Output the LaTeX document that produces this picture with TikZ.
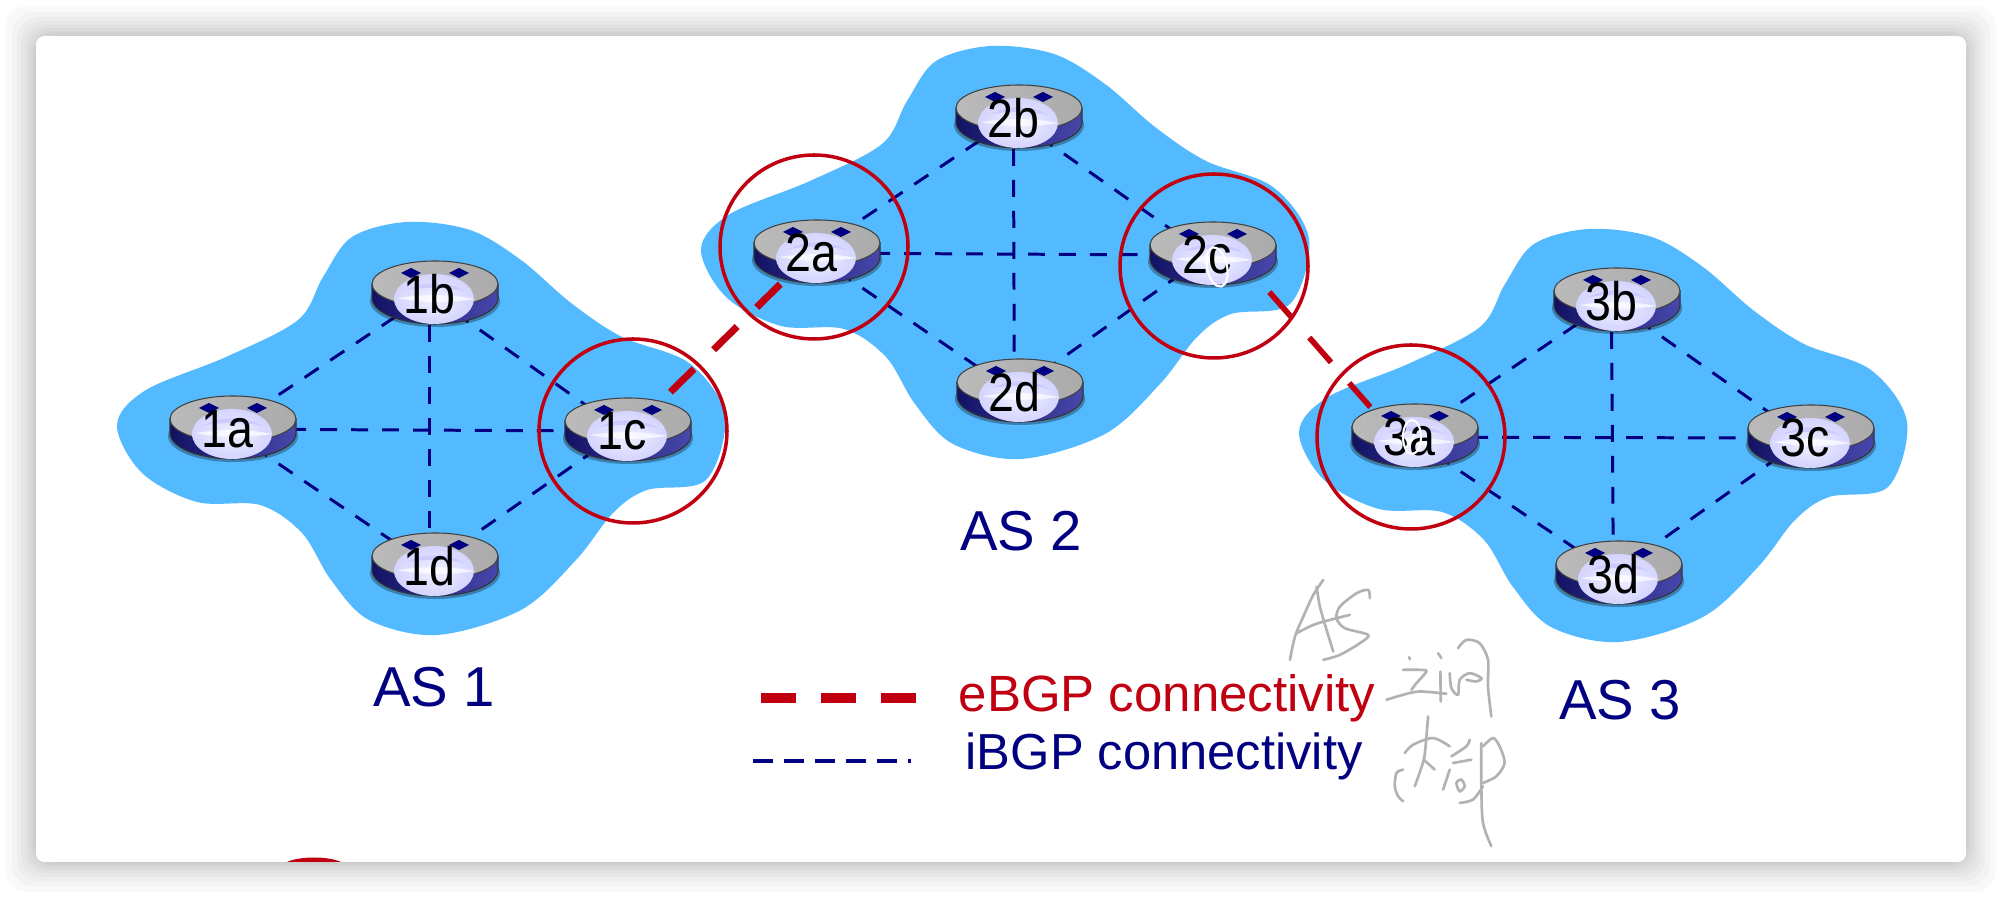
\documentclass[tikz,border=0pt]{standalone}
\usepackage{fontspec}
\setmainfont{Liberation Sans}
\usetikzlibrary{calc}
\definecolor{asblue}{RGB}{84,186,255}
\definecolor{linknavy}{RGB}{0,0,128}
\definecolor{linkred}{RGB}{192,0,16}
\definecolor{inkgray}{RGB}{178,178,178}
\definecolor{routerdark}{RGB}{18,18,100}
\definecolor{routerlight}{RGB}{72,72,172}
\pgfdeclarelayer{back}
\pgfsetlayers{back,main}
\tikzset{
  ibgp/.style={linknavy, line width=0.85pt, dash pattern=on 4.8pt off 4pt},
  ebgp/.style={linkred, line width=2pt, dash pattern=on 9.4pt off 7.8pt},
  ring/.style={linkred, line width=1pt},
  ink/.style={inkgray, line width=0.75pt, line cap=round},
  astext/.style={text=linknavy, font=\fontsize{16}{16}\selectfont},
  routertext/.style={inner sep=0pt, yshift=-0.6pt, xshift=-1.6pt, xscale=0.86, transform shape, font=\fontsize{15.4}{15.4}\selectfont},
  router/.pic={
    \fill[black, opacity=0.3] (0,9) ellipse [x radius=65, y radius=26];
    \shade[left color=routerdark, right color=routerlight, draw=black!80, line width=0.3pt]
      (-63,-8) -- (63,-8) -- (63,6) arc [start angle=0, end angle=180, x radius=63, y radius=26] -- cycle;
    \shade[left color=black!27, right color=black!33, draw=black!75, line width=0.3pt]
      (0,-8) ellipse [x radius=63, y radius=23];
    \shade[inner color=blue!6!white, outer color=blue!17!white]
      (-1,7) ellipse [x radius=40, y radius=25];
    \fill[blue!22!white, opacity=0.8] (-28,-2) .. controls (-10,-12) and (15,-10) .. (30,-1) .. controls (12,-5) and (-10,-5) .. (-28,-2);
    \fill[white, opacity=0.7] (-38,6) .. controls (-10,2) and (15,2) .. (39,7) .. controls (15,11) and (-15,11) .. (-38,6);
    \foreach \s in {-24,24}
      \fill[linknavy] (\s-10,-19) -- (\s,-24) -- (\s+10,-19) -- (\s,-14) -- cycle;
  }
}
\begin{document}
\begin{tikzpicture}[x=0.01cm,y=-0.01cm]
\useasboundingbox (0,0) rectangle (2002,898);

% window with its shadow
\begin{pgfonlayer}{back}
\fill[white] (0,0) rectangle (2002,898);
\foreach \s in {30,24,19,15,11,8,5,3,1}
  \fill[black, opacity=0.022, rounded corners=6pt] (36-\s,36-\s) rectangle (1966+\s,862+\s);
\fill[white, rounded corners=2.4pt] (36,36) rectangle (1966,862);
\fill[linkred] (287,862) .. controls (300,856) and (328,856) .. (341,862) -- cycle;

% the three clouds have the same outline
\foreach \dx/\dy in {0/0,584/-176,1182/7}
  \fill[asblue, shift={(\dx,\dy)}] plot [smooth cycle, tension=0.55] coordinates {
    (117,425) (146,390) (226,357) (298,320) (323,277) (352,237)
    (407,222) (470,230) (521,260) (571,303) (622,337) (689,363)
    (725,415) (706,480) (647,490) (613,513) (576,560)
    (521,610) (437,635) (369,620) (331,580) (302,533) (260,505)
    (197,502) (142,473)
  };
\end{pgfonlayer}

% routers
\foreach \name/\x/\y in {1a/233/427,1b/435/292,1c/628/429,1d/435/564,
                         2a/817/251,2b/1019/116,2c/1213/253,2d/1020/390,
                         3a/1415/435,3b/1617/299,3c/1811/436,3d/1619/572} {
  \pic at (\x,\y) {router};
  \node[routertext] (\name) at (\x,\y) {\name};
}

% links go under the routers
\begin{pgfonlayer}{back}
\foreach \as in {1,2,3} {
  \draw[ibgp] (\as a.center) -- (\as b.center);
  \draw[ibgp] (\as b.center) -- (\as c.center);
  \draw[ibgp] (\as a.center) -- (\as c.center);
  \draw[ibgp] (\as a.center) -- (\as d.center);
  \draw[ibgp] (\as c.center) -- (\as d.center);
  \draw[ibgp] (\as b.center) -- (\as d.center);
}
\draw[ebgp] ([shift={(48,-39)}]1c.center) -- ([shift={(-30,30)}]2a.center);
\draw[ebgp, line width=1.6pt] ([shift={(62,37)}]2c.center) -- ([shift={(-39,-30)}]3a.center);
\end{pgfonlayer}

% red rings
\draw[ring] (633,431) ellipse [x radius=94, y radius=92];
\draw[ring] (814,247) ellipse [x radius=94, y radius=92];
\draw[ring] (1214,266) ellipse [x radius=94, y radius=92];
\draw[ring] (1411,437) ellipse [x radius=94, y radius=92];

% white pen marks on 2c and 3a
\draw[white, line width=0.6pt, rotate around={12:(1217,267)}] (1217,267) ellipse [x radius=10, y radius=20];
\draw[white, line width=0.6pt] (1412,437) ellipse [x radius=9, y radius=17];
\draw[white, line width=0.5pt] (1406,448) -- (1415,434);

% labels and legend
\node[astext] (as1label) at (434,687) {AS 1};
\node[astext] (as2label) at (1021,531) {AS 2};
\node[astext] (as3label) at (1620,700) {AS 3};
\coordinate (ebgpleft) at (761,698);
\coordinate (ebgpright) at (916,698);
\coordinate (ibgpleft) at (753,761);
\coordinate (ibgpright) at (911,761);
\draw[linkred, line width=2.6pt, dash pattern=on 10pt off 7.1pt] (ebgpleft) -- (ebgpright);
\draw[linknavy, line width=1pt, dash pattern=on 5.7pt off 3.1pt] (ibgpleft) -- (ibgpright);
\node[anchor=base west, inner sep=0pt, text=linkred, font=\fontsize{14.5}{14.5}\selectfont] (ebgptext) at (958,712) {eBGP connectivity};
\node[anchor=base west, inner sep=0pt, text=linknavy, font=\fontsize{14.4}{14.4}\selectfont] (ibgptext) at (965,770) {iBGP connectivity};

% pen notes beside the legend
\begin{scope}[shift={(1270,570)},x=0.003333cm,y=-0.003333cm]
\draw[ink] plot [smooth] coordinates {(60,270) (75,200) (100,140) (130,75) (160,30)};
\draw[ink] plot [smooth] coordinates {(140,50) (150,110) (170,180) (190,245)};
\draw[ink] plot [smooth] coordinates {(80,190) (130,165) (180,150) (240,135)};
\draw[ink] plot [smooth] coordinates {(300,85) (295,60) (260,70) (210,110) (200,145) (225,175) (295,195) (270,220) (210,255) (160,270)};
\draw[ink] (418,262) -- (420,268);
\draw[ink] plot [smooth] coordinates {(400,300) (450,300) (470,305) (440,340) (425,360)};
\draw[ink] plot [smooth] coordinates {(350,390) (400,375) (450,365) (530,372)};
\draw[ink] (505,250) -- (515,265);
\draw[ink] (512,305) -- (513,395);
\draw[ink] plot [smooth] coordinates {(565,235) (590,210) (630,220) (655,270) (655,350) (665,440)};
\draw[ink] plot [smooth] coordinates {(540,310) (545,355) (565,375) (570,330) (600,310) (635,325) (620,335) (590,330)};
\draw[ink] plot [smooth] coordinates {(400,600) (380,610) (375,650) (385,680) (400,695)};
\draw[ink] plot [smooth] coordinates {(405,550) (430,525) (490,505) (540,530)};
\draw[ink] plot [smooth] coordinates {(475,440) (470,500) (462,570) (435,650)};
\draw[ink] (462,570) -- (495,600);
\draw[ink] plot [smooth] coordinates {(545,560) (590,530) (600,510)};
\draw[ink] (550,580) -- (605,570);
\draw[ink] (540,600) -- (520,660);
\draw[ink] plot [smooth cycle] coordinates {(560,640) (575,630) (585,650) (570,665)};
\draw[ink] plot [smooth] coordinates {(570,700) (610,690) (640,650)};
\draw[ink] plot [smooth] coordinates {(640,530) (670,505) (690,530) (705,580) (680,620) (640,640)};
\draw[ink] plot [smooth] coordinates {(635,520) (635,650) (640,760) (665,830)};
\end{scope}
\end{tikzpicture}
\end{document}
